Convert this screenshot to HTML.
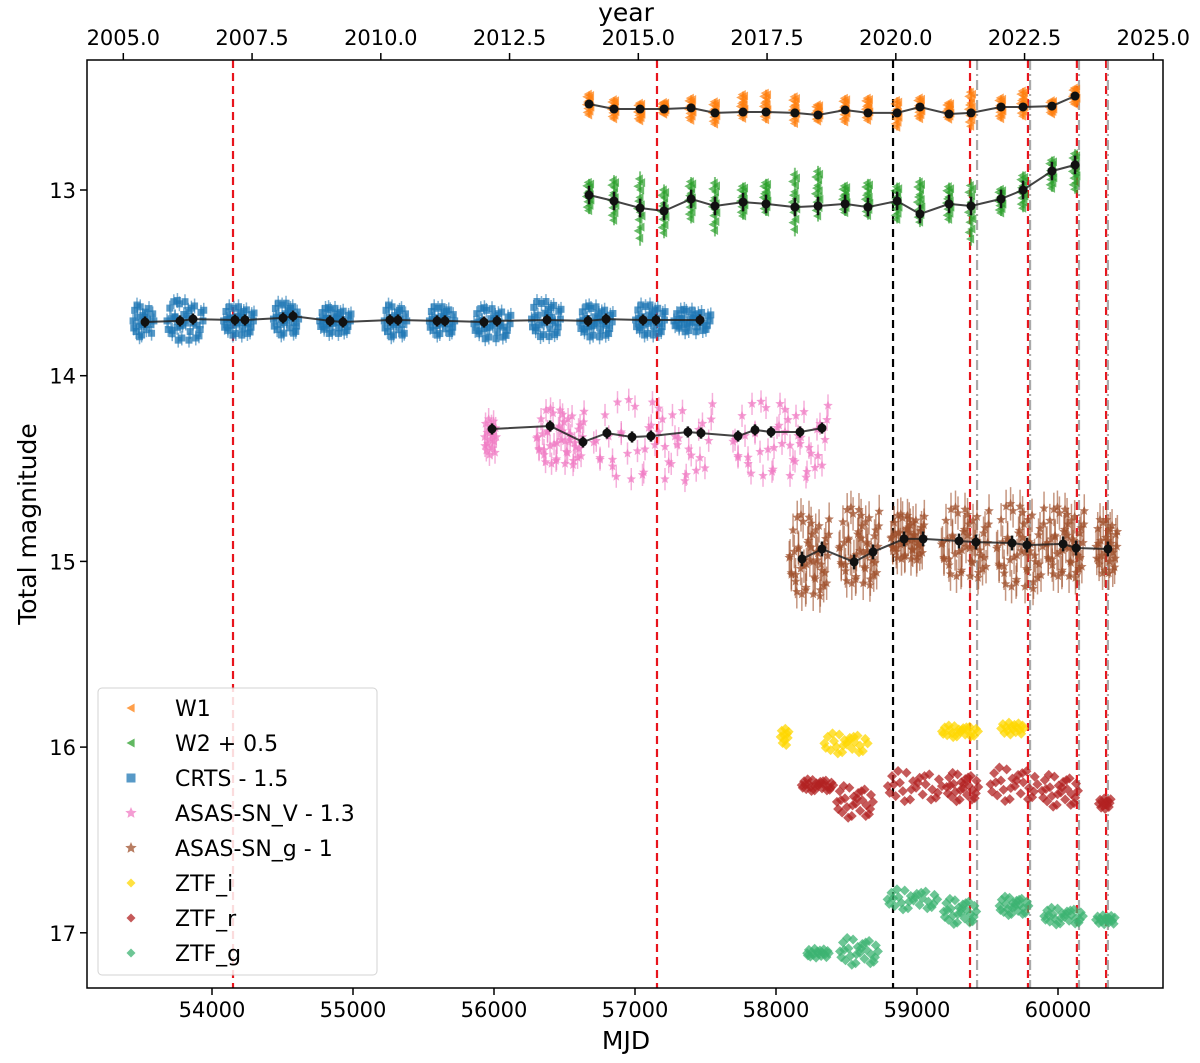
<!DOCTYPE html>
<html><head><meta charset="utf-8"><style>
html,body{margin:0;padding:0;background:#fff}
svg{display:block;font-family:"DejaVu Sans","Liberation Sans",sans-serif}
</style></head><body>
<svg id="chart" width="1200" height="1063" viewBox="0 0 1200 1063" xmlns="http://www.w3.org/2000/svg">
<rect x="0" y="0" width="1200" height="1063" fill="#fff"/>
<g id="lines"></g>
<g id="marks"></g>
<g id="axes"></g>
<text x="626" y="1049" font-size="25" text-anchor="middle">MJD</text>
<text x="626" y="21" font-size="25" text-anchor="middle">year</text>
<text transform="translate(36,524) rotate(-90)" font-size="25" text-anchor="middle">Total magnitude</text>
<g id="legend"></g>
</svg>
<script>
// ---- data ----
const xTicks=[54000,55000,56000,57000,58000,59000,60000];
const yTicks=[13,14,15,16,17];
const yearTicks=[2005.0,2007.5,2010.0,2012.5,2015.0,2017.5,2020.0,2022.5,2025.0];
const redLines=[54149,57156,59376,59787,60134,60341];
const blackLines=[58830];
const grayLines=[59426,59802,60149,60354];

const wiseMjd=[56674,56851,57036,57206,57398,57567,57766,57929,58134,58298,58490,58652,58859,59021,59227,59383,59596,59752,59957,60121];
const w1Mean=[12.537,12.564,12.564,12.564,12.558,12.585,12.580,12.580,12.585,12.596,12.569,12.585,12.585,12.553,12.591,12.585,12.553,12.553,12.548,12.494];
const w1Lo=[12.47,12.50,12.52,12.52,12.49,12.51,12.47,12.46,12.48,12.53,12.49,12.49,12.50,12.49,12.52,12.45,12.49,12.45,12.51,12.44];
const w1Hi=[12.61,12.63,12.64,12.60,12.64,12.66,12.63,12.64,12.66,12.64,12.65,12.64,12.68,12.63,12.63,12.68,12.63,12.62,12.60,12.55];
const w2Mean=[13.027,13.059,13.097,13.113,13.048,13.086,13.065,13.075,13.092,13.086,13.075,13.092,13.059,13.129,13.075,13.086,13.048,13.000,12.898,12.865];
const w2Lo=[12.94,12.92,12.90,12.97,12.93,12.93,12.96,12.94,12.88,12.87,12.96,12.94,12.96,12.93,12.96,12.94,12.98,12.90,12.82,12.78];
const w2Hi=[13.13,13.19,13.30,13.26,13.18,13.25,13.16,13.14,13.25,13.17,13.14,13.16,13.18,13.20,13.18,13.30,13.14,13.12,13.01,13.02];

const crtsMeanMjd=[53525,53773,53865,54163,54234,54504,54575,54837,54929,55262,55319,55596,55652,55929,56021,56376,56667,56795,57057,57149,57461];
const crtsMean=[13.711,13.705,13.695,13.700,13.700,13.689,13.679,13.705,13.711,13.700,13.700,13.705,13.705,13.711,13.705,13.700,13.705,13.695,13.700,13.700,13.700];
const crtsStart=[53432,53667,54071,54426,54752,55213,55532,55844,56255,56596,56993,57262];
const crtsEnd=[53596,53950,54305,54624,54993,55390,55731,56128,56482,56851,57220,57546];
const crtsLo=[13.61,13.59,13.62,13.60,13.63,13.61,13.62,13.63,13.59,13.62,13.61,13.64];
const crtsHi=[13.80,13.82,13.79,13.79,13.78,13.80,13.79,13.81,13.80,13.80,13.79,13.77];

const asvMeanMjd=[55986,56398,56631,56801,56979,57113,57375,57468,57731,57851,57965,58170,58326];
const asvMean=[14.287,14.271,14.357,14.309,14.330,14.325,14.303,14.309,14.325,14.292,14.303,14.303,14.282];
const asvStart=[55929,56291,56681,57674];
const asvEnd=[56021,56646,57567,58383];
const asvLo=[14.21,14.17,14.12,14.13];
const asvHi=[14.45,14.49,14.58,14.56];

const asgMeanMjd=[58185,58326,58554,58688,58908,59043,59298,59418,59674,59780,60036,60128,60354];
const asgMean=[14.987,14.933,15.003,14.949,14.879,14.879,14.890,14.896,14.901,14.912,14.906,14.928,14.933];
const asgStart=[58085,58439,58808,59163,59554,59908,60262];
const asgEnd=[58383,58738,59057,59518,59908,60192,60426];
const asgLo=[14.74,14.70,14.74,14.70,14.68,14.70,14.76];
const asgHi=[15.20,15.14,15.00,15.10,15.16,15.10,15.08];

const ztfiStart=[58028,58326,59163,59588];
const ztfiEnd=[58134,58667,59447,59766];
const ztfiLo=[15.89,15.92,15.88,15.86];
const ztfiHi=[16.00,16.04,15.95,15.94];
const ztfrStart=[58170,58418,58772,59198,59503,59872,60284];
const ztfrEnd=[58418,58702,59198,59447,59872,60156,60405];
const ztfrLo=[16.17,16.20,16.12,16.13,16.10,16.14,16.27];
const ztfrHi=[16.24,16.39,16.30,16.30,16.30,16.33,16.34];
const ztfgStart=[58213,58439,58772,59177,59574,59887,60262];
const ztfgEnd=[58383,58738,59163,59433,59802,60192,60418];
const ztfgLo=[17.08,17.02,16.76,16.81,16.80,16.86,16.90];
const ztfgHi=[17.14,17.18,16.88,16.96,16.91,16.96,16.96];

// ---- scales ----
const X0=87,X1=1163,Y0=60,Y1=988;
const xs=m=>212+(m-54000)*0.141;
const ys=v=>190+(v-13)*185.7;
const yrs=y=>xs(53371+(y-2005)*365.25);
const NS="http://www.w3.org/2000/svg";
function el(tag,attrs,parent){const e=document.createElementNS(NS,tag);for(const k in attrs)e.setAttribute(k,attrs[k]);parent.appendChild(e);return e;}
const marks=document.getElementById('marks'),axes=document.getElementById('axes'),lines=document.getElementById('lines'),legend=document.getElementById('legend');
const pat=[[.05,.5],[.12,.2],[.18,.8],[.25,.4],[.3,.65],[.36,.1],[.42,.9],[.47,.35],[.52,.55],[.58,.25],[.63,.75],[.68,.45],[.74,.15],[.79,.6],[.85,.85],[.9,.3],[.95,.5],[.08,.7],[.22,.05],[.33,.95],[.44,.6],[.55,.4],[.66,.2],[.77,.9],[.88,.7],[.15,.45],[.5,.05],[.6,.95],[.7,.55],[.97,.25]];

function shape(kind,x,y,s,color,op,parent){
  let e;
  if(kind==='tri') e=el('polygon',{points:`${x-s},${y} ${x+s*0.8},${y-s} ${x+s*0.8},${y+s}`,fill:color,opacity:op},parent);
  else if(kind==='sq') e=el('rect',{x:x-s,y:y-s,width:2*s,height:2*s,fill:color,opacity:op},parent);
  else if(kind==='dia') e=el('polygon',{points:`${x},${y-s} ${x+s},${y} ${x},${y+s} ${x-s},${y}`,fill:color,opacity:op},parent);
  else { let p=[];for(let i=0;i<10;i++){const r=i%2?s*0.45:s;const a=-Math.PI/2+i*Math.PI/5;p.push((x+r*Math.cos(a)).toFixed(1)+','+(y+r*Math.sin(a)).toFixed(1));}
    e=el('polygon',{points:p.join(' '),fill:color,opacity:op},parent);}
  return e;
}
function seasons(name,kind,color,start,end,lo,hi,n,size,err){
  const g=el('g',{},marks);
  
  
  for(let i=0;i<start.length;i++){
    const cnt=Math.max(8,Math.min(n,Math.round(n*(end[i]-start[i])/250)));
    for(let k=0;k<cnt;k++){
      const p=pat[k%pat.length];const sh=Math.floor(k/pat.length)*0.13;
      const u=(p[0]+sh)%1,v=(p[1]+sh*1.7)%1;
      const m=start[i]+u*(end[i]-start[i]);
      const mag=lo[i]+v*(hi[i]-lo[i]);
      const x=xs(m),y=ys(mag);
      if(err>0) el('line',{x1:x,x2:x,y1:ys(mag-err),y2:ys(mag+err),stroke:color,'stroke-width':1.5,opacity:0.6},g);
      shape(kind,x,y,size,color,0.75,g);
    }
  }
}
function wise(name,color,mjd,lo,hi){
  const g=el('g',{},marks);
  
  
  for(let i=0;i<mjd.length;i++){
    const x0=xs(mjd[i]);
    el('line',{x1:x0,x2:x0,y1:ys(lo[i]),y2:ys(hi[i]),stroke:color,'stroke-width':2,opacity:0.6},g);
    for(let k=0;k<14;k++){
      const p=pat[k];const mag=lo[i]+p[1]*(hi[i]-lo[i]);
      shape('tri',x0+(p[0]-0.5)*6,ys(mag),4.5,color,0.7,g);
    }
  }
}
function means(name,mjd,vals,err){
  const g=el('g',{},marks);
  
  
  el('polyline',{points:mjd.map((m,i)=>xs(m).toFixed(1)+','+ys(vals[i]).toFixed(1)).join(' '),fill:'none',stroke:'#222','stroke-width':2,opacity:0.85},g);
  mjd.forEach((m,i)=>{const x=xs(m),y=ys(vals[i]);
    el('line',{x1:x,x2:x,y1:ys(vals[i]-err),y2:ys(vals[i]+err),stroke:'#111','stroke-width':2.5},g);
    el('circle',{cx:x,cy:y,r:4.5,fill:'#111'},g);});
}
redLines.forEach(m=>{const l=el('line',{x1:xs(m),x2:xs(m),y1:Y0,y2:Y1,stroke:'#e8141c','stroke-width':2.2,'stroke-dasharray':'8,5'},lines);});
blackLines.forEach(m=>{const l=el('line',{x1:xs(m),x2:xs(m),y1:Y0,y2:Y1,stroke:'#000','stroke-width':2.2,'stroke-dasharray':'8,5'},lines);});
grayLines.forEach(m=>{const l=el('line',{x1:xs(m),x2:xs(m),y1:Y0,y2:Y1,stroke:'#aaa','stroke-width':2.2,'stroke-dasharray':'10,4,2,4'},lines);});

wise('w1','#ff7f0e',wiseMjd,w1Lo,w1Hi);
wise('w2','#2ca02c',wiseMjd,w2Lo,w2Hi);
seasons('crts','sq','#1f77b4',crtsStart,crtsEnd,crtsLo,crtsHi,34,3.5,0.04);
seasons('asassn-v','star','#f07cc4',asvStart,asvEnd,asvLo,asvHi,48,5,0.06);
seasons('asassn-g','star','#a0522d',asgStart,asgEnd,asgLo,asgHi,48,5,0.09);
seasons('ztf-i','dia','#ffd700',ztfiStart,ztfiEnd,ztfiLo,ztfiHi,24,5,0);
seasons('ztf-r','dia','#b22222',ztfrStart,ztfrEnd,ztfrLo,ztfrHi,26,5,0);
seasons('ztf-g','dia','#3cb371',ztfgStart,ztfgEnd,ztfgLo,ztfgHi,26,5,0);
means('w1',wiseMjd,w1Mean,0.02);
means('w2',wiseMjd,w2Mean,0.05);
means('crts',crtsMeanMjd,crtsMean,0.03);
means('asassn-v',asvMeanMjd,asvMean,0.03);
means('asassn-g',asgMeanMjd,asgMean,0.04);

const fr=el('rect',{x:X0,y:Y0,width:X1-X0,height:Y1-Y0,fill:'none',stroke:'#000','stroke-width':1.5},axes);

xTicks.forEach(t=>{const x=xs(t);el('line',{x1:x,x2:x,y1:Y1,y2:Y1+7,stroke:'#000','stroke-width':1.5},axes);
  const tx=el('text',{x:x,y:Y1+29,'font-size':21,'text-anchor':'middle'},axes);tx.textContent=t;
  });
yTicks.forEach(t=>{const y=ys(t);el('line',{x1:X0-7,x2:X0,y1:y,y2:y,stroke:'#000','stroke-width':1.5},axes);
  const tx=el('text',{x:X0-11,y:y+8,'font-size':21,'text-anchor':'end'},axes);tx.textContent=t;
  });
yearTicks.forEach(t=>{const x=yrs(t);el('line',{x1:x,x2:x,y1:Y0-7,y2:Y0,stroke:'#000','stroke-width':1.5},axes);
  const tx=el('text',{x:x,y:Y0-15,'font-size':21,'text-anchor':'middle'},axes);tx.textContent=t.toFixed(1);
  });

const lb=el('rect',{x:98,y:688,width:279,height:287,rx:4,fill:'#fff',opacity:0.85,stroke:'#ccc','stroke-width':1},legend);

const legItems=[['W1','tri','#ff7f0e'],['W2 + 0.5','tri','#2ca02c'],['CRTS - 1.5','sq','#1f77b4'],['ASAS-SN_V - 1.3','star','#f07cc4'],['ASAS-SN_g - 1','star','#a0522d'],['ZTF_i','dia','#ffd700'],['ZTF_r','dia','#b22222'],['ZTF_g','dia','#3cb371']];
legItems.forEach((it,i)=>{const y=708+i*35;const g=el('g',{},legend);
  
  shape(it[1],131,y,it[1]==='star'?6:4.5,it[2],0.75,g);
  const t=el('text',{x:175,y:y+8,'font-size':22},g);t.textContent=it[0];});
</script>
</body></html>
